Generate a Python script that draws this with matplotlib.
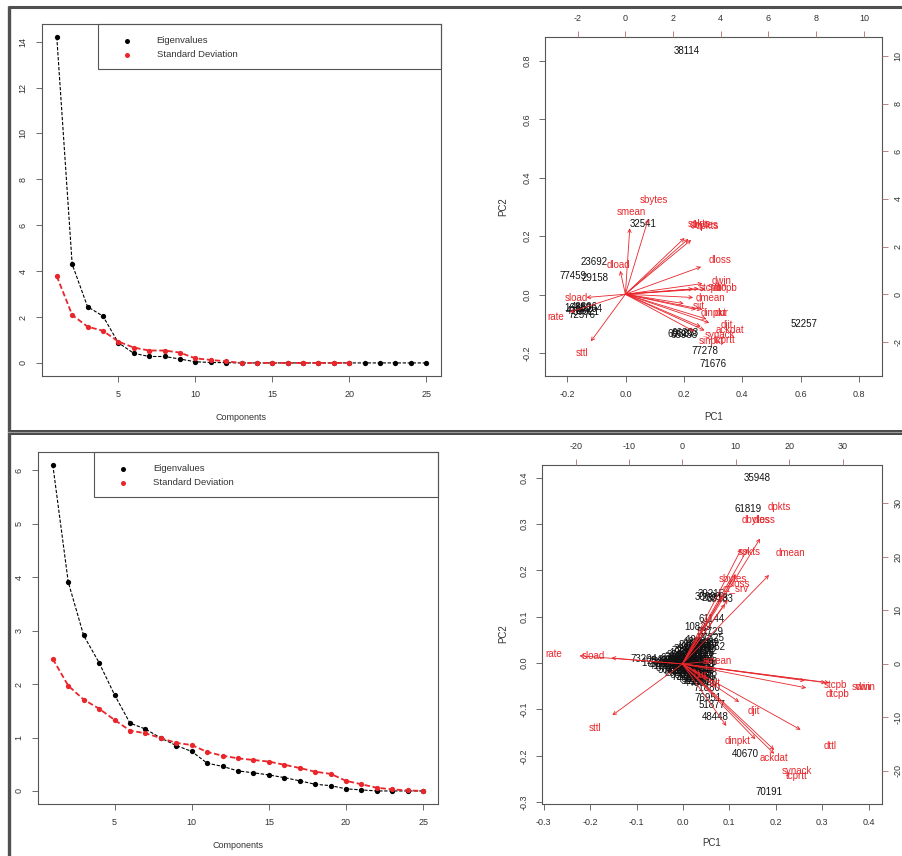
import numpy as np
import matplotlib
matplotlib.use("Agg")
import matplotlib.pyplot as plt
from matplotlib.patches import Rectangle

plt.rcParams['font.family'] = ['Liberation Sans', 'DejaVu Sans']
plt.rcParams['axes.unicode_minus'] = False

W, H = 902, 856
RED = '#e8262b'
GREY = '#333333'

# ---------------- data ----------------
components = list(range(1, 26))

# top-left scree
eig_1 = [14.2, 4.3, 2.45, 2.04, 0.88, 0.42, 0.28, 0.28, 0.17, 0.05, 0.02, 0.01,
         0, 0, 0, 0, 0, 0, 0, 0, 0, 0, 0, 0, 0]
sd_1 = [3.78, 2.09, 1.58, 1.40, 0.93, 0.67, 0.54, 0.54, 0.45, 0.20, 0.13, 0.07,
        0, 0, 0, 0, 0, 0, 0, 0]

# bottom-left scree
eig_2 = [6.1, 3.91, 2.91, 2.40, 1.80, 1.27, 1.16, 0.99, 0.85, 0.74, 0.52, 0.46,
         0.375, 0.34, 0.30, 0.25, 0.19, 0.125, 0.10, 0.04, 0.02, 0.0, 0.0, 0.0, 0.0]
sd_2 = [2.47, 1.97, 1.71, 1.54, 1.33, 1.13, 1.08, 0.99, 0.90, 0.86, 0.73, 0.66,
        0.61, 0.58, 0.55, 0.49, 0.43, 0.36, 0.32, 0.19, 0.125, 0.06, 0.03, 0.01, 0.0]

# top-right biplot: observation scores (PC1, PC2)
obs_ids_1 = ['38114', '32541', '23692', '77459', '29158',
             '16553', '48806', '60264', '41887', '59021', '72576',
             '69887', '65938', '66203', '77278', '71676', '52257']
obs_pc1_1 = [0.21, 0.059, -0.108, -0.181, -0.105,
             -0.165, -0.14, -0.125, -0.16, -0.135, -0.15,
             0.19, 0.20, 0.205, 0.273, 0.301, 0.613]
obs_pc2_1 = [0.834, 0.243, 0.112, 0.065, 0.058,
             -0.045, -0.042, -0.05, -0.055, -0.06, -0.07,
             -0.135, -0.14, -0.133, -0.193, -0.239, -0.102]

# top-right biplot: variable loadings
var_names_1 = ['sbytes', 'smean', 'dload', 'sload', 'rate', 'sttl', 'spkts', 'dbytes',
               'dpkts', 'dloss', 'dwin', 'swin', 'stcpb', 'dtcpb', 'dmean', 'sjit',
               'dinpkt', 'dur', 'djit', 'ackdat', 'synack', 'tcprtt', 'sinpkt']
var_x_1 = [1.2, 0.23, -0.27, -2.04, -2.91, -1.81, 3.1, 3.3,
           3.45, 3.97, 4.04, 3.85, 3.55, 4.2, 3.55, 3.06,
           3.7, 4.05, 4.25, 4.4, 3.95, 4.15, 3.6]
var_y_1 = [3.95, 3.46, 1.23, -0.17, -0.94, -2.47, 2.95, 2.9,
           2.85, 1.44, 0.56, 0.30, 0.28, 0.28, -0.17, -0.49,
           -0.8, -0.8, -1.3, -1.5, -1.7, -1.9, -1.95]

# bottom-right biplot: observation scores (PC1, PC2)
obs_ids_2 = ['35948', '61819', '40670', '70191', '48448', '73204',
             '30093', '26013', '33183', '39215',
             '61144', '10829', '53729', '77325', '24952',
             '71880', '76951', '51877',
             '12054', '20231', '14092', '32177', '45015', '58102', '19863',
             '62350', '27718', '38841', '50412', '11196', '64473', '23305',
             '43360', '55981', '68027', '17749', '36920', '49005', '71233',
             '28864', '42019', '57346', '66801', '13378', '31592', '47230',
             '74611', '22489', '39914', '52706', '60093', '15521', '34687',
             '46210', '69358', '25433', '41176', '56608', '18307', '37294',
             '63981', '29620', '44857', '75039',
             '10417', '21958', '33720', '40281', '51164', '62937', '72815',
             '14603', '26342', '35079', '47518', '58830', '67245', '78104',
             '16289', '27451', '38966', '49723', '54310', '65872', '74398',
             '11843', '23067', '34551', '45912', '56274', '67639', '70824',
             '18520', '29386', '41049', '52493', '63158', '73726', '15964',
             '24871', '36135', '48677']
obs_pc1_2 = [0.160, 0.141, 0.134, 0.186, 0.069, -0.085,
             0.055, 0.070, 0.080, 0.060,
             0.062, 0.033, 0.058, 0.060, 0.062,
             0.051, 0.055, 0.062,
             0.030, 0.020, 0.038, 0.010, 0.030, 0.040, 0.000,
             0.020, 0.038, -0.010, 0.010, 0.030, 0.040, -0.025,
             -0.005, 0.015, 0.035, -0.060, -0.040, -0.020, 0.000,
             0.020, 0.040, -0.030, -0.010, 0.010, 0.030, 0.040,
             -0.015, 0.005, 0.025, 0.040, 0.000, 0.020, 0.038,
             0.015, 0.035, -0.050, -0.045, 0.045, 0.025, 0.005,
             -0.020, 0.045, 0.030, 0.050,
             0.035, 0.028, 0.045, 0.015, 0.035, 0.045, 0.005,
             0.025, 0.045, -0.005, 0.015, 0.035, -0.020, 0.000,
             0.020, 0.040, -0.035, -0.015, 0.010, 0.030, -0.035,
             -0.015, 0.005, 0.025, 0.045, -0.025, -0.005, 0.015,
             0.035, -0.010, 0.010, 0.030, 0.045, 0.005, 0.025,
             0.042, 0.025, 0.045]
obs_pc2_2 = [0.399, 0.333, -0.197, -0.277, -0.116, 0.008,
             0.143, 0.140, 0.138, 0.150,
             0.094, 0.078, 0.068, 0.055, 0.034,
             -0.053, -0.075, -0.091,
             0.045, 0.038, 0.038, 0.030, 0.030, 0.030, 0.022,
             0.022, 0.022, 0.014, 0.014, 0.014, 0.014, 0.006,
             0.006, 0.006, 0.006, 0.000, -0.002, -0.002, -0.002,
             -0.002, -0.002, -0.010, -0.010, -0.010, -0.010, -0.010,
             -0.018, -0.018, -0.018, -0.018, -0.026, -0.026, -0.026,
             -0.034, -0.034, 0.004, -0.006, 0.002, 0.000, 0.012,
             0.004, -0.040, -0.042, 0.044,
             0.050, 0.042, 0.042, 0.034, 0.034, 0.034, 0.026,
             0.026, 0.026, 0.018, 0.018, 0.018, 0.010, 0.010,
             0.010, 0.010, 0.002, 0.002, 0.002, 0.002, -0.006,
             -0.006, -0.006, -0.006, -0.006, -0.014, -0.014, -0.014,
             -0.014, -0.022, -0.022, -0.022, -0.022, -0.030, -0.030,
             -0.030, -0.038, -0.038]

# bottom-right biplot: variable loadings
var_names_2 = ['dpkts', 'dbytes', 'dloss', 'spkts', 'dmean', 'sbytes', 'sloss', 'ct_srv',
               'smean', 'rate', 'sload', 'sttl', 'stcpb', 'dtcpb', 'swin', 'dwin',
               'djit', 'dinpkt', 'ackdat', 'dttl', 'synack', 'tcprtt', 'sjit', 'dur']
var_x_2 = [18.2, 13.8, 15.3, 12.5, 20.3, 9.4, 10.6, 10.0,
           6.5, -24.1, -16.6, -16.4, 28.7, 29.0, 33.6, 34.4,
           13.3, 10.3, 17.1, 27.7, 21.5, 21.5, 6.0, 3.5]
var_y_2 = [29.3, 26.9, 26.9, 21.0, 20.8, 15.8, 15.0, 14.0,
           0.6, 1.9, 1.4, -12.0, -3.9, -5.6, -4.4, -4.4,
           -8.9, -14.5, -17.6, -15.4, -20.1, -21.0, -3.5, -2.0]


fig = plt.figure(figsize=(W / 100, H / 100), dpi=100)

# panel frame lines (screenshot borders)
bg = fig.add_axes([0, 0, 1, 1], zorder=-5)
bg.set_xlim(0, W)
bg.set_ylim(H, 0)
bg.axis('off')
bg.plot([8, W], [7, 7], color='#505050', lw=2.2, solid_capstyle='butt')
bg.plot([9, 9], [6, H], color='#505050', lw=2.4, solid_capstyle='butt')
bg.add_patch(Rectangle((8, 429.5), W - 8, 5.5, color='#4a4a4a', lw=0))
bg.plot([8, W], [432.3, 432.3], color='#9a9a9a', lw=0.8)


def px_axes(x0, y0, x1, y1, **kw):
    return fig.add_axes([x0 / W, 1 - y1 / H, (x1 - x0) / W, (y1 - y0) / H], **kw)


def style_axes(ax):
    for s in ax.spines.values():
        s.set_color('#555555')
        s.set_linewidth(0.8)
    ax.tick_params(direction='out', length=4, width=0.6, color='#555555',
                   labelsize=6.5, labelcolor=GREY)


def scree(rect, eig, sd, ylim, yticks, lab_y):
    ax = px_axes(*rect)
    style_axes(ax)
    ax.plot(components[:len(eig)], eig, color='black', lw=0.8, dashes=(3, 1.5),
            marker='o', ms=3.8, mec='none')
    ax.plot(components[:len(sd)], sd, color=RED, lw=1.3, dashes=(3, 1.5),
            marker='o', ms=3.8, mec='none')
    ax.set_xlim(0.04, 25.96)
    ax.set_ylim(*ylim)
    ax.set_xticks([5, 10, 15, 20, 25])
    ax.set_yticks(yticks)
    ax.tick_params(axis='x', pad=6)
    ax.tick_params(axis='y', pad=6.5)
    plt.setp(ax.get_yticklabels(), rotation=90, va='center')
    ax.text(0.5, lab_y, 'Components', transform=ax.transAxes, ha='center', va='center',
            fontsize=6.5, color=GREY)
    # legend box
    ax.add_patch(Rectangle((0.14, 0.873), 0.86, 0.127, transform=ax.transAxes,
                           fill=False, ec='#555555', lw=0.8, clip_on=False))
    ax.plot([0.213], [0.953], 'o', color='black', ms=3.6, mec='none', transform=ax.transAxes)
    ax.plot([0.213], [0.912], 'o', color=RED, ms=3.6, mec='none', transform=ax.transAxes)
    ax.text(0.287, 0.953, 'Eigenvalues', transform=ax.transAxes, va='center',
            fontsize=6.8, color=GREY)
    ax.text(0.287, 0.912, 'Standard Deviation', transform=ax.transAxes, va='center',
            fontsize=6.8, color=GREY)
    return ax


scree((42, 24, 441, 376), eig_1, sd_1, (-0.57, 14.77), list(range(0, 15, 2)), -0.119)
scree((38, 452, 438, 804), eig_2, sd_2, (-0.244, 6.344), list(range(0, 7)), -0.118)


def biplot(rect, pc_xlim, pc_ylim, pc_xt, pc_yt, ld_xlim, ld_ylim, ld_xt, ld_yt,
           ids, sx, sy, names, vx, vy, xlab_y, ylab_x, ylab_y):
    ax = px_axes(*rect)
    style_axes(ax)
    ax.set_xlim(*pc_xlim)
    ax.set_ylim(*pc_ylim)
    ax.set_xticks(pc_xt)
    ax.set_yticks(pc_yt)
    ax.set_xticklabels(['%.1f' % v for v in pc_xt])
    ax.set_yticklabels(['%.1f' % v for v in pc_yt])
    ax.tick_params(axis='x', pad=6)
    ax.tick_params(axis='y', pad=5.5)
    plt.setp(ax.get_yticklabels(), rotation=90, va='center')
    for t, x, y in zip(ids, sx, sy):
        ax.text(x, y, t, ha='center', va='center', fontsize=7, color='#111111')
    ax.text(0.5, xlab_y, 'PC1', transform=ax.transAxes, ha='center', va='center',
            fontsize=7, color=GREY)
    ax.text(ylab_x, ylab_y, 'PC2', transform=ax.transAxes, ha='center', va='center',
            fontsize=7, color=GREY, rotation=90)

    ax2 = px_axes(*rect, facecolor='none')
    ax2.set_xlim(*ld_xlim)
    ax2.set_ylim(*ld_ylim)
    for s in ax2.spines.values():
        s.set_visible(False)
    ax2.xaxis.tick_top()
    ax2.yaxis.tick_right()
    ax2.set_xticks(ld_xt)
    ax2.set_yticks(ld_yt)
    ax2.tick_params(direction='out', length=4, width=0.6, color='#b07070',
                    labelsize=6.5, labelcolor=GREY)
    ax2.tick_params(axis='x', pad=6)
    ax2.tick_params(axis='y', pad=4.5)
    plt.setp(ax2.get_yticklabels(), rotation=90, va='center')
    for t, x, y in zip(names, vx, vy):
        ax2.text(x, y, t, ha='center', va='center', fontsize=7, color=RED)
        ax2.annotate('', xy=(0.8 * x, 0.8 * y), xytext=(0, 0),
                     arrowprops=dict(arrowstyle='->', color=RED, lw=0.6,
                                     mutation_scale=6, shrinkA=0, shrinkB=0))
    return ax, ax2


biplot((545, 37, 882, 376), (-0.2765, 0.879), (-0.279, 0.882),
       [-0.2, 0.0, 0.2, 0.4, 0.6, 0.8], [-0.2, 0.0, 0.2, 0.4, 0.6, 0.8],
       (-3.37, 10.76), (-3.43, 10.79), list(range(-2, 11, 2)), list(range(-2, 11, 2)),
       obs_ids_1, obs_pc1_1, obs_pc2_1, var_names_1, var_x_1, var_y_1,
       -0.122, -0.124, 0.499)

biplot((542, 465, 882, 804), (-0.3037, 0.429), (-0.3037, 0.427),
       [-0.3, -0.2, -0.1, 0.0, 0.1, 0.2, 0.3, 0.4], [-0.3, -0.2, -0.1, 0.0, 0.1, 0.2, 0.3, 0.4],
       (-26.3, 37.4), (-26.2, 37.2), list(range(-20, 31, 10)), list(range(-20, 31, 10)),
       obs_ids_2, obs_pc1_2, obs_pc2_2, var_names_2, var_x_2, var_y_2,
       -0.115, -0.114, 0.504)

fig.savefig('out.png', dpi=100)
